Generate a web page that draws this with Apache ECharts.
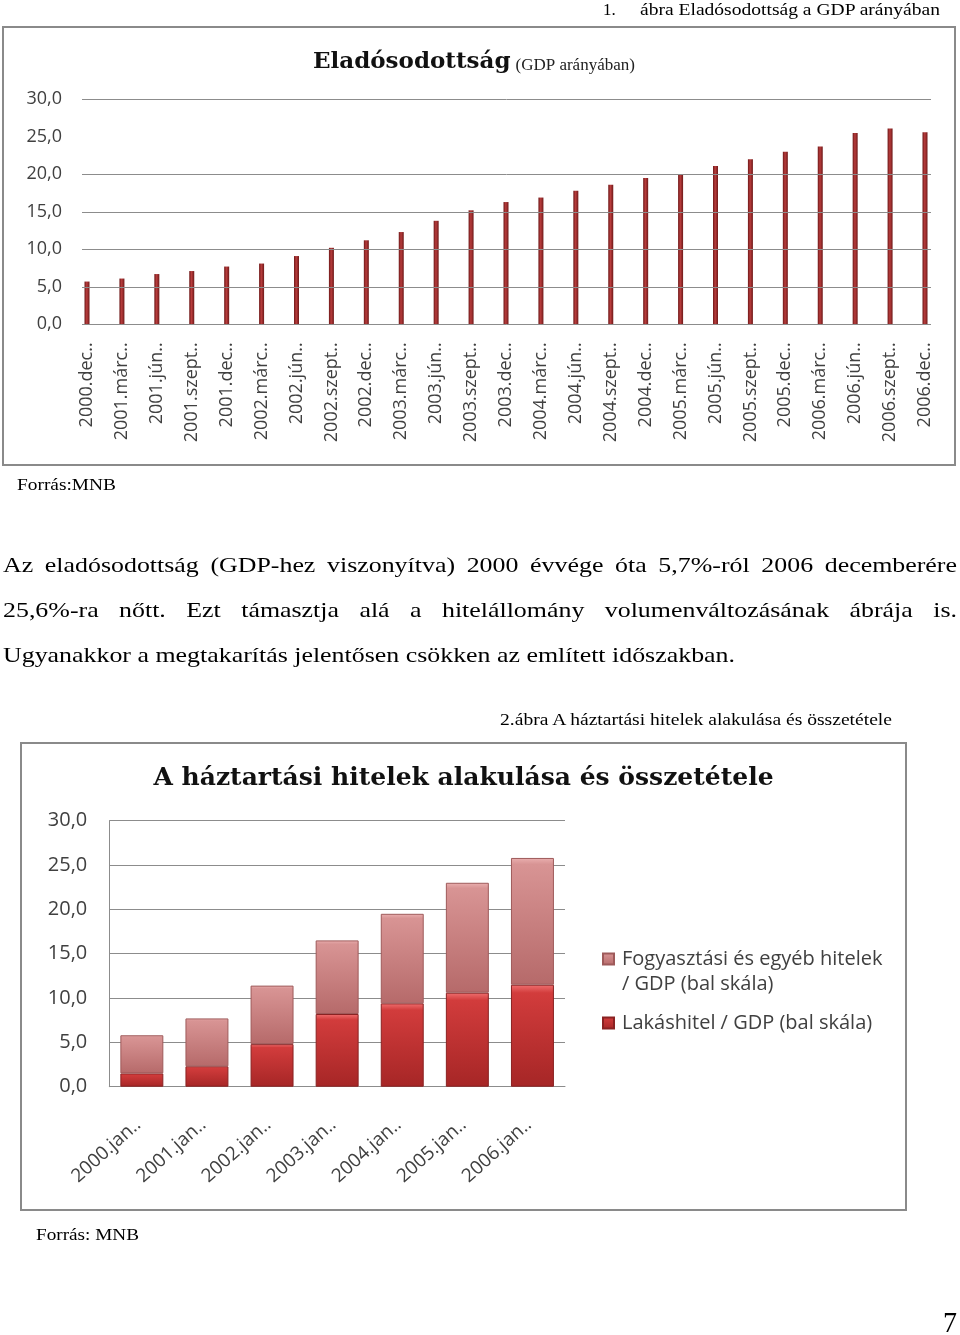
<!DOCTYPE html>
<html>
<head>
<meta charset="utf-8">
<script src="https://cdn.jsdelivr.net/npm/echarts@6/dist/echarts.min.js"></script>
<style>
html,body{margin:0;padding:0;background:#fff;}
#page{position:relative;width:960px;height:1335px;overflow:hidden;}
#chart{position:absolute;left:0;top:0;width:960px;height:1335px;z-index:0;}
.t{position:absolute;z-index:1;font-family:"Liberation Serif","Times New Roman",serif;color:#000;white-space:nowrap;transform-origin:0 0;}
</style>
</head>
<body>
<div id="page">
<div id="chart"></div>
<div class="t" id="c1a" style="left:603px;top:0px;font-size:17px;line-height:20px;">1.</div>
<div class="t" id="c1b" style="left:640px;top:0px;font-size:17px;line-height:20px;">ábra Eladósodottság a GDP arányában</div>
<div class="t" id="src1" style="left:17px;top:475px;font-size:17px;line-height:20px;">Forrás:MNB</div>
<div class="t body" id="p1" style="left:3px;top:542px;font-size:22px;line-height:45px;text-align:justify;text-align-last:justify;">Az eladósodottság (GDP-hez viszonyítva) 2000 évvége óta 5,7%-ról 2006 decemberére</div>
<div class="t body" id="p2" style="left:3px;top:587px;font-size:22px;line-height:45px;text-align:justify;text-align-last:justify;">25,6%-ra nőtt. Ezt támasztja alá a hitelállomány volumenváltozásának ábrája is.</div>
<div class="t body" id="p3" style="left:3px;top:632px;font-size:22px;line-height:45px;">Ugyanakkor a megtakarítás jelentősen csökken az említett időszakban.</div>
<div class="t" id="c2" style="left:500px;top:710px;font-size:17px;line-height:20px;">2.ábra A háztartási hitelek alakulása és összetétele</div>
<div class="t" id="src2" style="left:36px;top:1225px;font-size:17px;line-height:20px;">Forrás: MNB</div>
<div class="t" id="pg" style="left:943px;top:1304px;font-size:30px;line-height:36px;">7</div>
</div>
<script>
// ---- Data ----
var debtCategories = ['2000.dec..','2001.márc..','2001.jún..','2001.szept..','2001.dec..','2002.márc..','2002.jún..','2002.szept..','2002.dec..','2003.márc..','2003.jún..','2003.szept..','2003.dec..','2004.márc..','2004.jún..','2004.szept..','2004.dec..','2005.márc..','2005.jún..','2005.szept..','2005.dec..','2006.márc..','2006.jún..','2006.szept..','2006.dec..'];
var debtValues = [5.7,6.1,6.7,7.1,7.7,8.1,9.1,10.2,11.2,12.3,13.8,15.2,16.3,16.9,17.8,18.6,19.5,20.0,21.1,22.0,23.0,23.7,25.5,26.1,25.6];
var loanCategories = ['2000.jan..','2001.jan..','2002.jan..','2003.jan..','2004.jan..','2005.jan..','2006.jan..'];
var housingLoans = [1.5,2.3,4.8,8.2,9.4,10.6,11.5];
var consumerLoans = [4.3,5.4,6.6,8.3,10.1,12.4,14.3];
var debtGridTicks = [0,5,10,15,20,30]; // the 25 gridline is absent in the source chart

// ---- text fitting (layout only) ----
function fit(id, w){
  var el=document.getElementById(id);
  var nat=el.getBoundingClientRect().width;
  el.style.transform='scaleX('+(w/nat)+')';
}
fit('c1b',300); fit('src1',99); fit('c2',392); fit('src2',103); fit('pg',14);
(function(){
  var p3=document.getElementById('p3');
  var nat=p3.getBoundingClientRect().width;
  var k=732/nat;
  ['p1','p2','p3'].forEach(function(id){
    var el=document.getElementById(id);
    if(id!=='p3'){el.style.width=(954/k)+'px';el.style.whiteSpace='normal';}
    el.style.transform='scaleX('+k+')';
  });
})();

var fmt = function(v){return Number(v).toFixed(1).replace('.',',');};
var lblFont = '"Open Sans", sans-serif';
var gridColor = '#8c8c8c';

var chart = echarts.init(document.getElementById('chart'), null, {renderer:'canvas'});
var option = {
  animation:false,
  backgroundColor:'transparent',
  title:[
    {left:313, top:44, padding:0, text:'{a|Eladósodottság} {b|(GDP arányában)}',
     textStyle:{rich:{
       a:{fontFamily:'"DejaVu Serif", serif', fontWeight:'bold', fontSize:23, color:'#111', verticalAlign:'bottom', lineHeight:30},
       b:{fontFamily:'"Liberation Serif", serif', fontWeight:'normal', fontSize:17, color:'#222', verticalAlign:'bottom', lineHeight:26}
     }}},
    {left:463.5, textAlign:'center', top:766, padding:0, text:'A háztartási hitelek alakulása és összetétele',
     textStyle:{fontFamily:'"DejaVu Serif", serif', fontWeight:'bold', fontSize:25, color:'#111'}}
  ],
  graphic:[
    {type:'rect', shape:{x:3,y:27,width:952,height:438}, style:{fill:null, stroke:'#8a8a8a', lineWidth:2}, silent:true},
    {type:'rect', shape:{x:21,y:743,width:885,height:467}, style:{fill:null, stroke:'#8a8a8a', lineWidth:2}, silent:true}
  ],
  legend:{
    orient:'vertical', left:602, top:921.5, padding:0, itemWidth:11, itemHeight:11, itemGap:14, icon:'rect',
    data:['Fogyasztási és egyéb hitelek\n/ GDP (bal skála)','Lakáshitel / GDP (bal skála)'],
    formatter:function(name){ return name.indexOf('\n')>=0 ? ' \n'+name : name; },
    textStyle:{fontFamily:lblFont, fontSize:20, color:'#404040', lineHeight:25, padding:[0,0,0,3]}
  },
  grid:[
    {left:82, right:29, top:99.3, bottom:1335-324.3},
    {left:87, right:35, top:99.3, bottom:1335-324.3},
    {left:109.3, right:960-565, top:820.7, bottom:1335-1086.7}
  ],
  xAxis:[
    {gridIndex:0, type:'value', show:false, min:0, max:1},
    {gridIndex:1, type:'category', data:debtCategories, boundaryGap:false,
     axisLine:{show:false}, axisTick:{show:false},
     axisLabel:{interval:0, rotate:90, margin:18, fontFamily:lblFont, fontSize:18, color:'#404040'}},
    {gridIndex:2, type:'category', data:loanCategories, boundaryGap:true,
     axisLine:{show:true, lineStyle:{color:gridColor, width:1}}, axisTick:{show:false},
     axisLabel:{interval:0, rotate:42, margin:32, padding:[0,5,0,0], fontFamily:lblFont, fontSize:19, color:'#404040'}}
  ],
  yAxis:[
    {gridIndex:0, type:'value', min:0, max:30, interval:5,
     axisLine:{show:false}, axisTick:{show:false},
     axisLabel:{formatter:fmt, margin:20, fontFamily:lblFont, fontSize:18, color:'#404040'},
     splitLine:{show:false}},
    {gridIndex:1, type:'value', min:0, max:30, interval:5, show:false, splitLine:{show:false}},
    {gridIndex:2, type:'value', min:0, max:30, interval:5,
     axisLine:{show:true, lineStyle:{color:gridColor, width:1}}, axisTick:{show:false},
     axisLabel:{formatter:fmt, margin:22, fontFamily:lblFont, fontSize:20, color:'#404040'},
     splitLine:{show:true, lineStyle:{color:gridColor, width:1}}}
  ],
  series:[
    {type:'line', name:'gridlines', xAxisIndex:0, yAxisIndex:0, data:[], silent:true,
     markLine:{silent:true, symbol:'none', label:{show:false}, animation:false,
       lineStyle:{color:gridColor, type:'solid', width:1},
       data:debtGridTicks.map(function(v){return {yAxis:v};})}},
    {type:'bar', name:'Eladósodottság', xAxisIndex:1, yAxisIndex:1, data:debtValues, barWidth:5, z:3,
     itemStyle:{color:new echarts.graphic.LinearGradient(0,0,1,0,[
       {offset:0,color:'#6e1818'},{offset:0.45,color:'#b83c3c'},{offset:1,color:'#6e1818'}])}},
    {type:'bar', name:'Lakáshitel / GDP (bal skála)', xAxisIndex:2, yAxisIndex:2, stack:'h', data:housingLoans, barWidth:'66%',
     itemStyle:{color:new echarts.graphic.LinearGradient(0,0,0,1,[
       {offset:0,color:'#f07070'},{offset:0.08,color:'#d23c3c'},{offset:1,color:'#a62626'}]),
       borderColor:'#8a2222', borderWidth:1}},
    {type:'bar', name:'Fogyasztási és egyéb hitelek\n/ GDP (bal skála)', xAxisIndex:2, yAxisIndex:2, stack:'h', data:consumerLoans, barWidth:'66%',
     itemStyle:{color:new echarts.graphic.LinearGradient(0,0,0,1,[
       {offset:0,color:'#eab0b0'},{offset:0.05,color:'#d89494'},{offset:1,color:'#b66a6a'}]),
       borderColor:'#9e5a5a', borderWidth:1}}
  ]
};
chart.setOption(option);
</script>
</body>
</html>
